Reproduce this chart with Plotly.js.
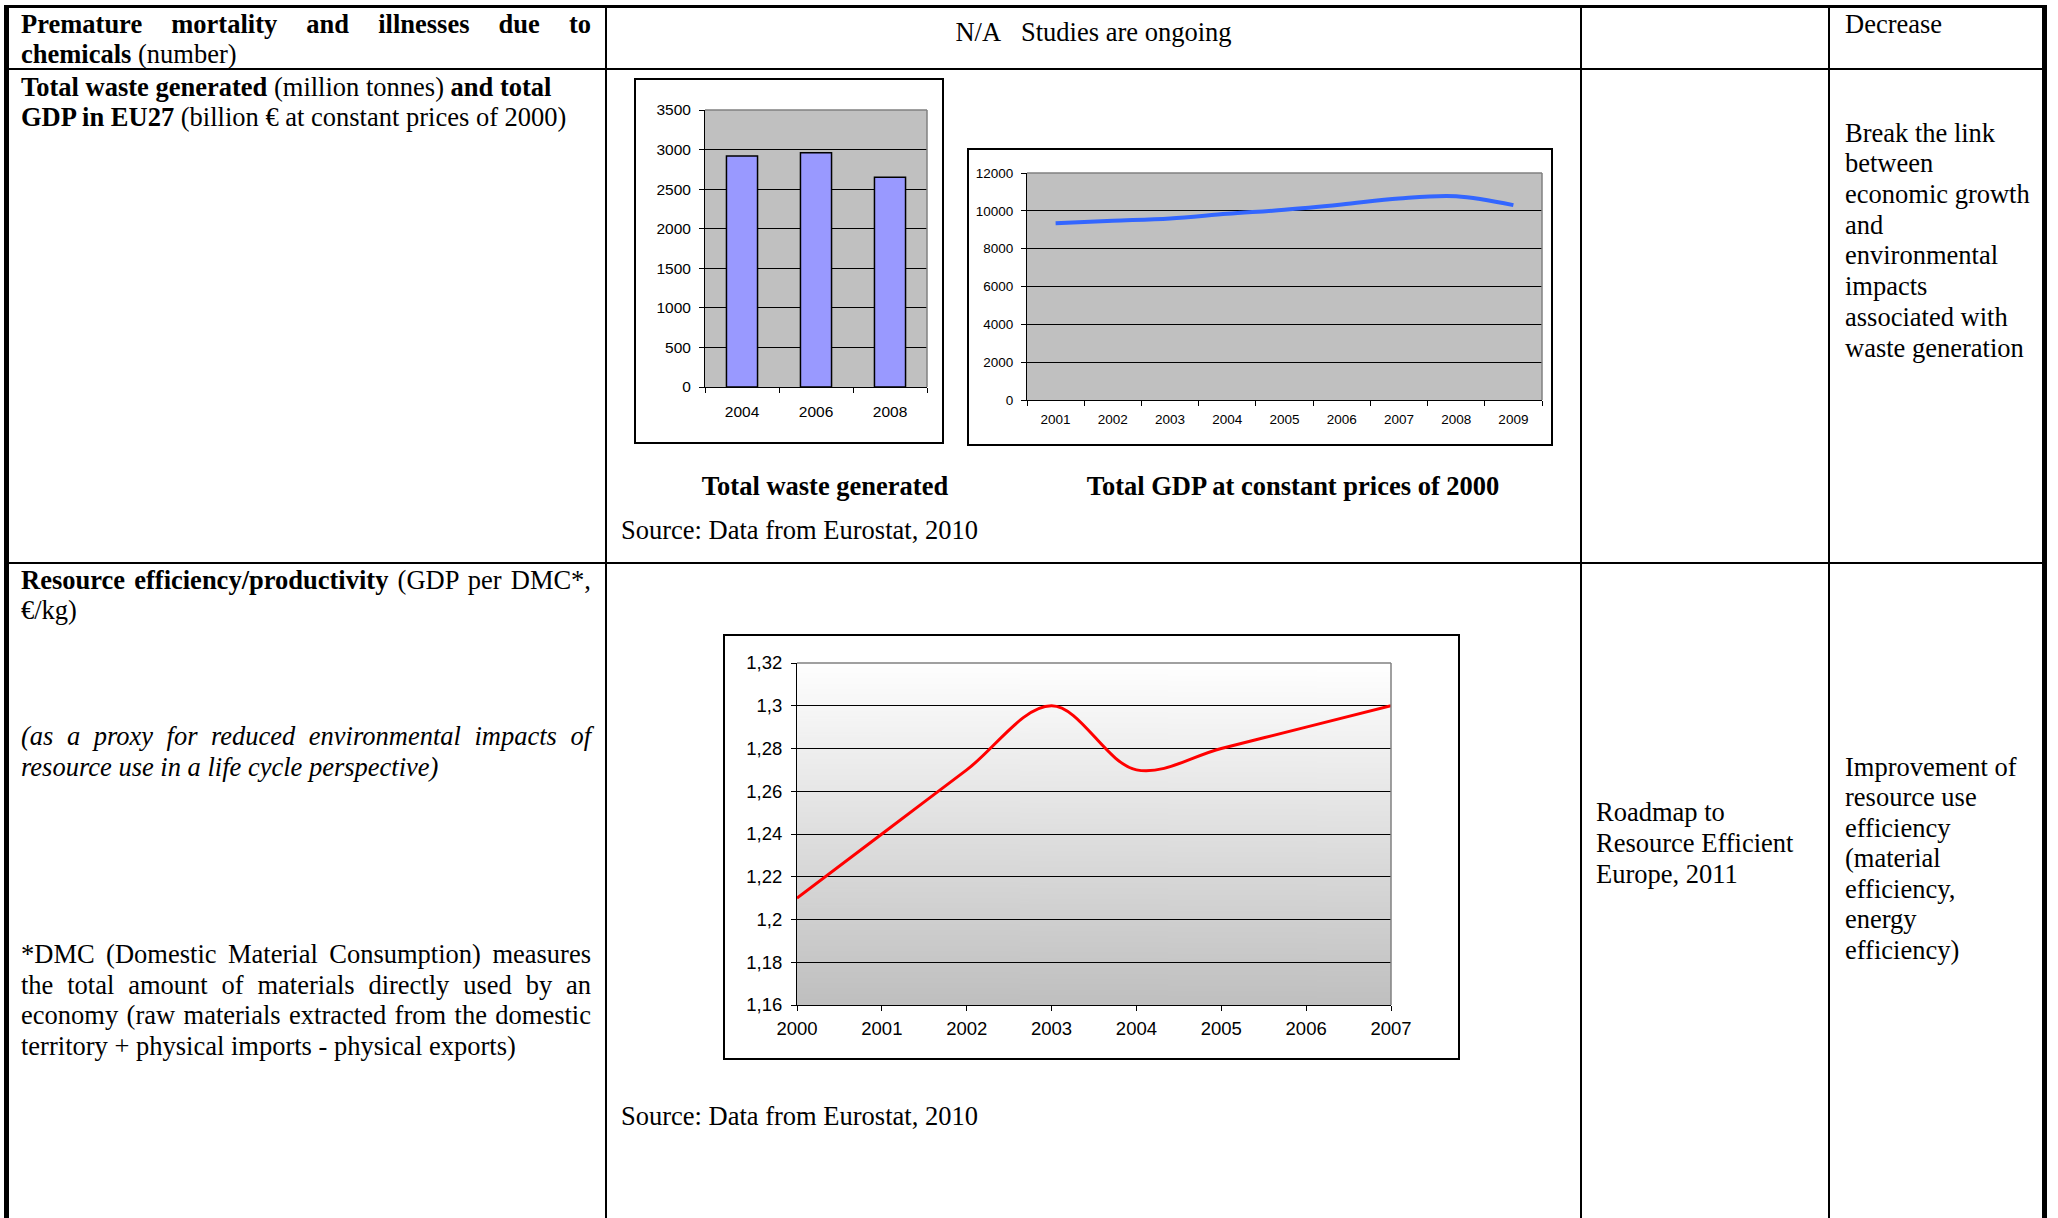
<!DOCTYPE html>
<html><head><meta charset="utf-8">
<script src="https://cdn.plot.ly/plotly-3.0.1.min.js"></script>
<style>
html,body{margin:0;padding:0;background:#fff;}
#page{position:relative;width:2058px;height:1218px;overflow:hidden;font-family:"Liberation Serif","Times New Roman",serif;font-size:26.5px;color:#000;}
.ln{position:absolute;background:#000;}
.t{position:absolute;white-space:nowrap;line-height:30.5px;}
.j{text-align:justify;text-align-last:justify;width:570px;left:21px;}
.box{position:absolute;border:2px solid #000;box-sizing:border-box;background:#fff;}
.box > div{position:absolute;left:0;top:0;}
</style></head><body><div id="page">

<!-- table lines -->
<div class="ln" style="left:4px;top:5px;width:2043px;height:3px"></div>
<div class="ln" style="left:4px;top:68px;width:2043px;height:2px"></div>
<div class="ln" style="left:4px;top:562px;width:2043px;height:2px"></div>
<div class="ln" style="left:4px;top:5px;width:5px;height:1213px"></div>
<div class="ln" style="left:605px;top:5px;width:2px;height:1213px"></div>
<div class="ln" style="left:1580px;top:5px;width:2px;height:1213px"></div>
<div class="ln" style="left:1828px;top:5px;width:2px;height:1213px"></div>
<div class="ln" style="left:2042px;top:5px;width:5px;height:1213px"></div>

<!-- row 1 -->
<div class="t j" style="top:8.6px"><b>Premature mortality and illnesses due to</b></div>
<div class="t" style="left:21px;top:38.8px"><b>chemicals</b> (number)</div>
<div class="t" style="left:606px;width:975px;text-align:center;top:16.5px">N/A&nbsp;&nbsp;&nbsp;Studies are ongoing</div>
<div class="t" style="left:1845px;top:8.6px">Decrease</div>

<!-- row 2 -->
<div class="t" style="left:21px;top:71.6px"><b>Total waste generated</b> (million tonnes) <b>and total</b></div>
<div class="t" style="left:21px;top:101.8px"><b>GDP in EU27</b> (billion € at constant prices of 2000)</div>
<div class="t" style="left:1845px;top:117.6px;line-height:30.7px">Break the link<br>between<br>economic growth<br>and<br>environmental<br>impacts<br>associated with<br>waste generation</div>

<div class="box" style="left:634px;top:78px;width:310px;height:366px"><div id="c1"></div></div>
<div class="box" style="left:967px;top:148px;width:586px;height:298px"><div id="c2"></div></div>

<div class="t" style="left:625px;width:400px;text-align:center;top:470.6px"><b>Total waste generated</b></div>
<div class="t" style="left:1043px;width:500px;text-align:center;top:470.6px"><b>Total GDP at constant prices of 2000</b></div>
<div class="t" style="left:621px;top:515px">Source: Data from Eurostat, 2010</div>

<!-- row 3 -->
<div class="t j" style="top:565.1px"><b>Resource efficiency/productivity</b> (GDP per DMC*,</div>
<div class="t" style="left:21px;top:595.3px">€/kg)</div>
<div class="t j" style="top:721.3px"><i>(as a proxy for reduced environmental impacts of</i></div>
<div class="t" style="left:21px;top:751.5px"><i>resource use in a life cycle perspective)</i></div>
<div class="t j" style="top:939.2px">*DMC (Domestic Material Consumption) measures</div>
<div class="t j" style="top:969.7px">the total amount of materials directly used by an</div>
<div class="t j" style="top:1000.2px">economy (raw materials extracted from the domestic</div>
<div class="t" style="left:21px;top:1030.7px">territory + physical imports - physical exports)</div>

<div class="box" style="left:723px;top:634px;width:737px;height:426px"><div id="c3"></div></div>
<div class="t" style="left:621px;top:1100.6px">Source: Data from Eurostat, 2010</div>

<div class="t" style="left:1596px;top:797.4px;line-height:30.6px">Roadmap to<br>Resource Efficient<br>Europe, 2011</div>
<div class="t" style="left:1845px;top:751.5px;line-height:30.6px">Improvement of<br>resource use<br>efficiency<br>(material<br>efficiency,<br>energy<br>efficiency)</div>

</div>
<script>
// ---- data ----
const wasteYears = ['2004', '2006', '2008'];
const wasteValues = [2920, 2960, 2650];

const gdpYears = ['2001', '2002', '2003', '2004', '2005', '2006', '2007', '2008', '2009'];
const gdpValues = [9350, 9475, 9595, 9840, 10055, 10335, 10650, 10770, 10300];

const effYears = [2000, 2001, 2002, 2003, 2004, 2005, 2006, 2007];
const effValues = [1.21, 1.24, 1.27, 1.30, 1.27, 1.28, 1.29, 1.30];

// ---- helpers ----
const sans = 'Liberation Sans, Arial, sans-serif';
function axisBase(extra) {
  return Object.assign({
    showline: true, linecolor: '#000', linewidth: 1,
    ticks: 'outside', ticklen: 5, tickwidth: 1, tickcolor: '#000',
    zeroline: false, fixedrange: true
  }, extra);
}
function frameShapes(color) {
  return [
    {type: 'line', xref: 'x domain', yref: 'y domain', x0: 0, x1: 1, y0: 1, y1: 1, line: {color: color, width: 1.5}, layer: 'above'},
    {type: 'line', xref: 'x domain', yref: 'y domain', x0: 1, x1: 1, y0: 0, y1: 1, line: {color: color, width: 1.5}, layer: 'above'}
  ];
}
const cfg = {staticPlot: true, displayModeBar: false};

// ---- chart 1: total waste ----
Plotly.newPlot('c1', [{
  type: 'bar', x: wasteYears, y: wasteValues,
  marker: {color: '#9999ff', line: {color: '#000', width: 1.5}},
  hoverinfo: 'skip'
}], {
  width: 306, height: 362, margin: {l: 69, r: 15, t: 30, b: 55, pad: 0},
  paper_bgcolor: '#fff', plot_bgcolor: '#c0c0c0', showlegend: false, bargap: 0.58,
  font: {family: sans, size: 15.5, color: '#000'},
  xaxis: axisBase({type: 'category', tickson: 'boundaries', showgrid: false, ticklabelstandoff: 10}),
  yaxis: axisBase({range: [0, 3500], tick0: 0, dtick: 500, tickformat: 'd', showgrid: true, gridcolor: '#000', gridwidth: 1, ticklabelstandoff: 5}),
  shapes: frameShapes('#808080')
}, cfg);

// ---- chart 2: GDP ----
Plotly.newPlot('c2', [{
  type: 'scatter', mode: 'lines', x: gdpYears, y: gdpValues,
  line: {color: '#3366ff', width: 4, shape: 'spline', smoothing: 1},
  hoverinfo: 'skip'
}], {
  width: 582, height: 294, margin: {l: 58, r: 9, t: 22.5, b: 43.5, pad: 0},
  paper_bgcolor: '#fff', plot_bgcolor: '#c0c0c0', showlegend: false,
  font: {family: sans, size: 13.5, color: '#000'},
  xaxis: axisBase({type: 'category', range: [-0.5, gdpYears.length - 0.5], tickson: 'boundaries', showgrid: false, ticklabelstandoff: 7}),
  yaxis: axisBase({range: [0, 12000], tick0: 0, dtick: 2000, tickformat: 'd', showgrid: true, gridcolor: '#000', gridwidth: 1, ticklabelstandoff: 5}),
  shapes: frameShapes('#808080')
}, cfg);

// ---- chart 3: resource efficiency ----
const cv = document.createElement('canvas');
cv.width = 4; cv.height = 256;
const ctx = cv.getContext('2d');
const grad = ctx.createLinearGradient(0, 0, 0, 256);
grad.addColorStop(0, '#ffffff');
grad.addColorStop(1, '#bfbfbf');
ctx.fillStyle = grad; ctx.fillRect(0, 0, 4, 256);
const gradUrl = cv.toDataURL('image/png');

Plotly.newPlot('c3', [{
  type: 'scatter', mode: 'lines', x: effYears, y: effValues,
  line: {color: '#ff0000', width: 3, shape: 'spline', smoothing: 1},
  hoverinfo: 'skip', cliponaxis: true
}], {
  width: 733, height: 422, margin: {l: 72, r: 67, t: 27, b: 53, pad: 0},
  paper_bgcolor: '#fff', plot_bgcolor: 'rgba(0,0,0,0)', showlegend: false,
  separators: ', ',
  font: {family: sans, size: 18.5, color: '#000'},
  images: [{source: gradUrl, xref: 'paper', yref: 'paper', x: 0, y: 1, sizex: 1, sizey: 1,
            xanchor: 'left', yanchor: 'top', sizing: 'stretch', layer: 'below'}],
  xaxis: axisBase({range: [2000, 2007], tick0: 2000, dtick: 1, tickformat: 'd', showgrid: false, ticklabelstandoff: 2}),
  yaxis: axisBase({range: [1.16, 1.32], tick0: 1.16, dtick: 0.02, showgrid: true, gridcolor: '#000', gridwidth: 1, ticklabelstandoff: 5}),
  shapes: frameShapes('#808080')
}, cfg);
</script>
</body></html>
